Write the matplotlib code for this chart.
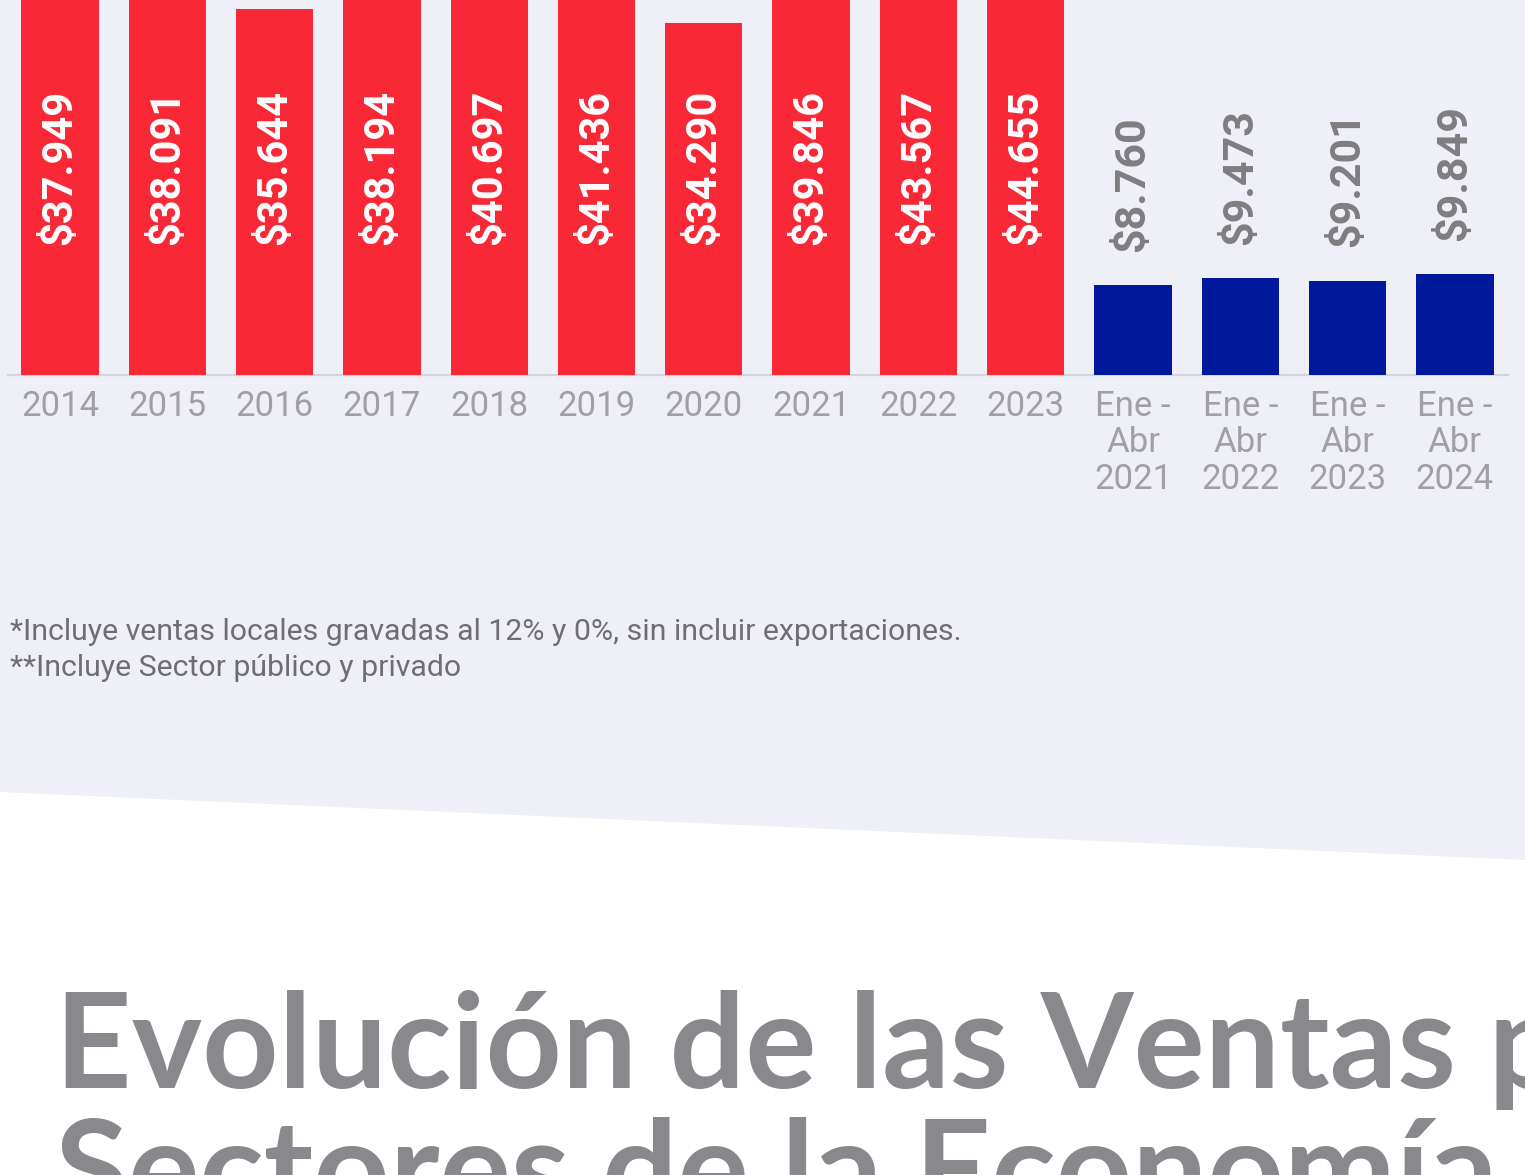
import matplotlib
matplotlib.use("Agg")
import matplotlib.pyplot as plt
from matplotlib.patches import Polygon

# ---- data ----
years = ['2014', '2015', '2016', '2017', '2018', '2019', '2020', '2021', '2022', '2023']
annual = [37.949, 38.091, 35.644, 38.194, 40.697, 41.436, 34.290, 39.846, 43.567, 44.655]
periods = ['Ene -\nAbr\n2021', 'Ene -\nAbr\n2022', 'Ene -\nAbr\n2023', 'Ene -\nAbr\n2024']
partial = [8.760, 9.473, 9.201, 9.849]
notes = ['*Incluye ventas locales gravadas al 12% y 0%, sin incluir exportaciones.',
         '**Incluye Sector público y privado']
title_lines = ['Evolución de las Ventas p', 'Sectores de la Economía']

RED = '#F92837'
BLUE = '#00189C'
BG = '#EFEFF7'
W, H = 1525, 1175

fig = plt.figure(figsize=(W / 100, H / 100), dpi=100, facecolor='white')

# background band with slanted bottom edge
bg = Polygon([(0, 1), (1, 1), (1, (H - 860) / H), (0, (H - 792) / H)],
             closed=True, transform=fig.transFigure, facecolor=BG,
             edgecolor='none', zorder=-5)
fig.patches.append(bg)

ax = fig.add_axes([0, (H - 375) / H, 1, 375 / H])
ax.set_zorder(2)
ax.set_facecolor('none')
n_a = len(annual)
xa = list(range(n_a))
xp = list(range(n_a, n_a + len(partial)))
step = 107.3
ax.set_xlim(-60 / step, (W - 60) / step)
ax.set_ylim(0, 375 / 10.26)

ax.bar(xa, annual, width=0.72, color=RED, zorder=2)
ax.bar(xp, partial, width=0.72, color=BLUE, zorder=2)

for x, v in zip(xa, annual):
    ax.text(x, 12.7, f'${v:.3f}', rotation=90, ha='center', va='bottom',
            color='white', fontsize=30, fontweight='bold', family='Roboto',
            zorder=3)
for x, v in zip(xp, partial):
    ax.text(x, v + 9.85, f'${v:.3f}', rotation=90, ha='center', va='center',
            color='#7E7E80', fontsize=31, fontweight='bold', family='Roboto',
            zorder=3)

# baseline
ax.plot([(8 - 60) / step, (1508 - 60) / step], [0, 0], color='#D3D3DA',
        lw=1.6, clip_on=False, zorder=1)

for s in ax.spines.values():
    s.set_visible(False)
ax.set_yticks([])
ax.set_xticks(xa + xp)
ax.set_xticklabels(years + periods, color='#A0A0A4', fontsize=25,
                   family='Roboto', fontweight='normal', linespacing=1.12)
ax.tick_params(axis='x', length=0, pad=11)

# footnotes
fig.text(10 / W, (H - 640) / H, notes[0], color='#6E6E72', fontsize=21.8,
         family='Roboto', va='baseline', ha='left')
fig.text(10 / W, (H - 676) / H, notes[1], color='#6E6E72', fontsize=21.8,
         family='Roboto', va='baseline', ha='left')

# big title (cropped as in the reference)
fig.text(55 / W, (H - 1088) / H, title_lines[0], color='#88888D', fontsize=96,
         family='Lato', fontweight='bold', va='baseline', ha='left')
fig.text(55 / W, (H - 1215) / H, title_lines[1], color='#88888D', fontsize=96,
         family='Lato', fontweight='bold', va='baseline', ha='left')

fig.savefig('out.png', dpi=100, facecolor='white')
